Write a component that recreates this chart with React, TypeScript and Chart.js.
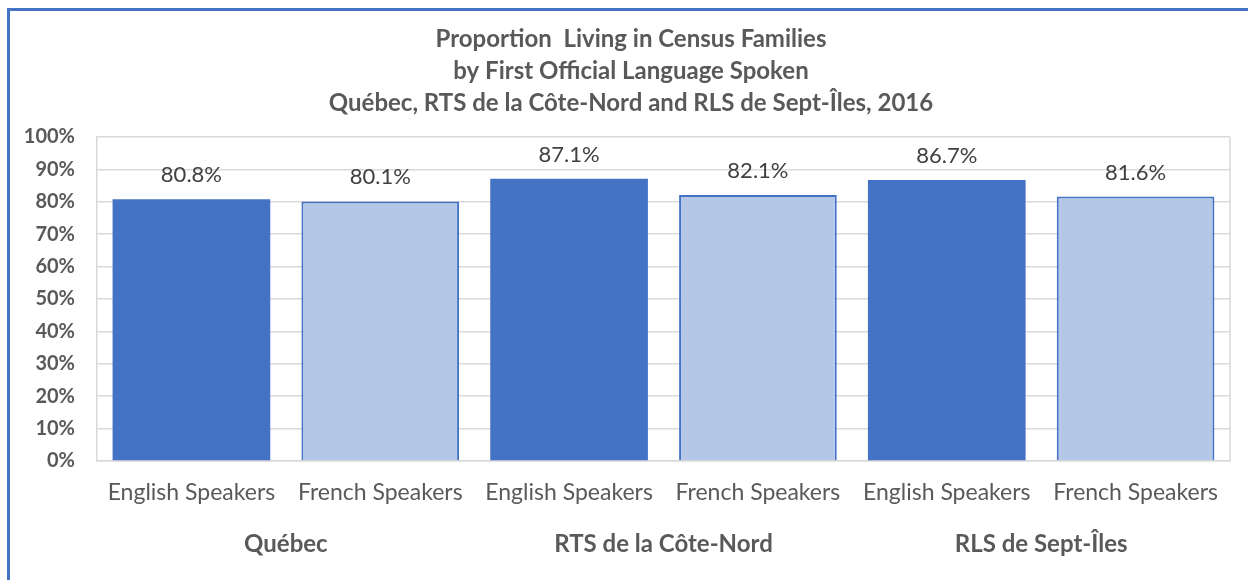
import React, { useEffect, useRef } from "react";
import { Chart, registerables } from "chart.js";

Chart.register(...registerables);

const titleLines = [
  "Proportion  Living in Census Families",
  "by First Official Language Spoken",
  "Québec, RTS de la Côte-Nord and RLS de Sept-Îles, 2016",
];
const regions = ["Québec", "RTS de la Côte-Nord", "RLS de Sept-Îles"];
const speakerGroups = ["English Speakers", "French Speakers"];
const englishValues = [80.8, 87.1, 86.7];
const frenchValues = [80.1, 82.1, 81.6];
const yMin = 0;
const yMax = 100;
const yStep = 10;

const labels = regions.flatMap(() => speakerGroups);
const values = regions.flatMap((_, i) => [englishValues[i], frenchValues[i]]);

const DARK = "#4472c4";
const LIGHT = "#b4c7e7";
const TEXT = "#595959";
const GRID = "#d9d9d9";
const FONT = "Lato";

const overlay = {
  id: "overlay",
  beforeDraw(chart: any) {
    const ctx = chart.ctx;
    ctx.save();
    ctx.fillStyle = DARK;
    ctx.fillRect(7, 8, 3, chart.height - 8);
    ctx.fillRect(7, 8, chart.width - 7, 3);
    ctx.restore();
  },
  afterDraw(chart: any) {
    const ctx = chart.ctx;
    const { right, top, bottom } = chart.chartArea;
    ctx.save();
    // right frame line of plot area
    ctx.strokeStyle = GRID;
    ctx.lineWidth = 1.5;
    ctx.beginPath();
    ctx.moveTo(right, top);
    ctx.lineTo(right, bottom);
    ctx.stroke();

    // data labels
    const meta = chart.getDatasetMeta(0);
    ctx.fillStyle = "#404040";
    ctx.font = `22px ${FONT}`;
    ctx.textAlign = "center";
    ctx.textBaseline = "alphabetic";
    meta.data.forEach((bar: any, i: number) => {
      ctx.fillText(values[i].toFixed(1) + "%", bar.x, bar.y - 17);
    });

    // group labels
    const xs = chart.scales.x;
    ctx.fillStyle = TEXT;
    ctx.font = `bold 24px ${FONT}`;
    regions.forEach((r, i) => {
      const cx = (xs.getPixelForValue(2 * i) + xs.getPixelForValue(2 * i + 1)) / 2;
      ctx.fillText(r, cx, 552);
    });

    // title
    ctx.font = `bold 24px ${FONT}`;
    const tb = [47, 79, 111];
    titleLines.forEach((t, i) => ctx.fillText(t, 631, tb[i]));
    ctx.restore();
  },
};

export default function App() {
  const ref = useRef<HTMLCanvasElement>(null);
  useEffect(() => {
    if (!ref.current) return;
    const chart = new Chart(ref.current, {
      type: "bar",
      data: {
        labels,
        datasets: [
          {
            data: values,
            backgroundColor: values.map((_, i) => (i % 2 === 0 ? DARK : LIGHT)),
            borderColor: DARK,
            borderWidth: values.map((_, i) => (i % 2 === 0 ? 0 : 2)),
            barPercentage: 0.835,
            categoryPercentage: 1,
          },
        ],
      },
      options: {
        responsive: false,
        animation: false,
        layout: { padding: { top: 137, right: 18, left: 0, bottom: 0 } },
        plugins: { legend: { display: false }, tooltip: { enabled: false }, title: { display: false } },
        scales: {
          x: {
            grid: { display: false, drawTicks: false },
            border: { color: GRID, width: 1.5 },
            ticks: { color: TEXT, font: { family: FONT, size: 23 }, padding: 18, maxRotation: 0, autoSkip: false },
            afterFit: (s: any) => { s.height = 119; },
          },
          y: {
            min: yMin,
            max: yMax,
            grid: { color: GRID, lineWidth: 1.5, drawTicks: false },
            border: { color: GRID, width: 1.5 },
            ticks: {
              stepSize: yStep,
              color: TEXT,
              font: { family: FONT, size: 20, weight: "bold" },
              padding: 22,
              callback: (v: any) => v + "%",
            },
            afterFit: (s: any) => { s.width = 97; },
          },
        },
      },
      plugins: [overlay],
    });
    return () => chart.destroy();
  }, []);
  return (
    <div style={{ position: "absolute", left: 0, top: 0, width: 1248, height: 580, background: "#fff" }}>
      <canvas ref={ref} width={1248} height={580} style={{ display: "block" }} />
    </div>
  );
}
